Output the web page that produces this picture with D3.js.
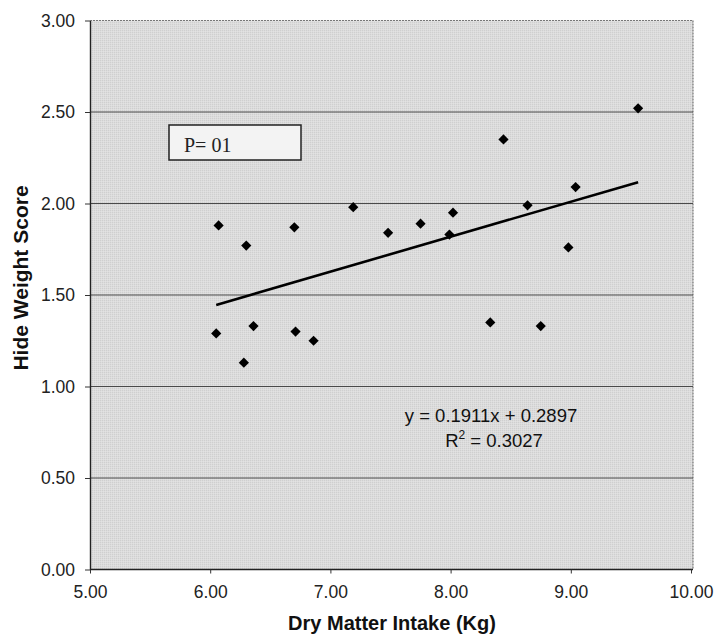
<!DOCTYPE html>
<html>
<head>
<meta charset="utf-8">
<script src="https://cdn.jsdelivr.net/npm/d3@7"></script>
<style>
  html, body { margin: 0; padding: 0; background: #ffffff; }
  svg { display: block; }
</style>
</head>
<body>
<svg id="chart" width="714" height="638"></svg>
<script>
// ---- data ----
const dmi = [6.07, 6.30, 6.70, 7.19, 6.05, 6.36, 6.71, 6.86, 6.28, 7.48,
             7.75, 7.99, 8.02, 8.33, 8.44, 8.64, 8.75, 8.98, 9.04, 9.56];
const hideScore = [1.88, 1.77, 1.87, 1.98, 1.29, 1.33, 1.30, 1.25, 1.13, 1.84,
                   1.89, 1.83, 1.95, 1.35, 2.35, 1.99, 1.33, 1.76, 2.09, 2.52];
const xTicks = [5, 6, 7, 8, 9, 10];
const yTicks = [0, 0.5, 1.0, 1.5, 2.0, 2.5, 3.0];
const slope = [0.1911];
const intercept = [0.2897];
const rSquared = [0.3027];
const pLabel = ["P= 01"];
const xTitle = ["Dry Matter Intake (Kg)"];
const yTitle = ["Hide Weight Score"];

// ---- layout ----
const svg = d3.select("#chart");
const L = 90, R = 693, T = 20.5, B = 569.5;
const x = d3.scaleLinear().domain([5, 10]).range([L, R - 2]);
const y = d3.scaleLinear().domain([0, 3]).range([B, T]);

// pattern for stippled gray background
const defs = svg.append("defs");
const pat = defs.append("pattern").attr("id", "stip")
  .attr("width", 2).attr("height", 2).attr("patternUnits", "userSpaceOnUse");
pat.append("rect").attr("width", 2).attr("height", 2).attr("fill", "#dcdcdc");
pat.append("rect").attr("width", 1).attr("height", 1).attr("fill", "#cfcfcf");
pat.append("rect").attr("x", 1).attr("y", 1).attr("width", 1).attr("height", 1).attr("fill", "#e2e2e2");

svg.append("rect").attr("x", L).attr("y", T).attr("width", R - L).attr("height", B - T)
  .attr("fill", "url(#stip)");

// top & right border (dotted, lighter)
svg.append("path")
  .attr("d", `M${L},${T}H${R}V${B}`)
  .attr("fill", "none").attr("stroke", "#777").attr("stroke-width", 1.2)
  .attr("stroke-dasharray", "2,1");

// gridlines
svg.append("g").selectAll("line").data(yTicks.filter(v => v > 0 && v < 3)).join("line")
  .attr("x1", L).attr("x2", R)
  .attr("y1", d => y(d)).attr("y2", d => y(d))
  .attr("stroke", "#4a4a4a").attr("stroke-width", 1.1);

// axes
const xAxis = d3.axisBottom(x).tickValues(xTicks).tickFormat(d3.format(".2f"))
  .tickSizeInner(4).tickSizeOuter(0).tickPadding(12);
const gx = svg.append("g").attr("transform", `translate(0,${B})`).call(xAxis);
gx.select(".domain").attr("stroke", "#222").attr("stroke-width", 1.4).attr("d", `M${L},0H${R}`);
gx.selectAll(".tick line").attr("stroke", "#333");
gx.selectAll("text").attr("font-family", "Arial, 'Liberation Sans', sans-serif")
  .attr("font-size", "17.5px").attr("fill", "#222");

const yAxis = d3.axisLeft(y).tickValues(yTicks).tickFormat(d3.format(".2f"))
  .tickSizeInner(5).tickSizeOuter(0).tickPadding(10);
const gy = svg.append("g").attr("transform", `translate(${L},0)`).call(yAxis);
gy.select(".domain").attr("stroke", "#222").attr("stroke-width", 1.4);
gy.selectAll(".tick line").attr("stroke", "#333");
gy.selectAll("text").attr("font-family", "Arial, 'Liberation Sans', sans-serif")
  .attr("font-size", "17.5px").attr("fill", "#222");

// trend line
const xmin = d3.min(dmi), xmax = d3.max(dmi);
const f = v => slope[0] * v + intercept[0];
svg.append("line")
  .attr("x1", x(xmin)).attr("y1", y(f(xmin)))
  .attr("x2", x(xmax)).attr("y2", y(f(xmax)))
  .attr("stroke", "#000").attr("stroke-width", 2.6);

// points (diamonds)
const pts = dmi.map((d, i) => ({ x: d, y: hideScore[i] }));
svg.append("g").selectAll("path").data(pts).join("path")
  .attr("d", d3.symbol().type(d3.symbolSquare).size(52))
  .attr("transform", d => `translate(${x(d.x)},${y(d.y)}) rotate(45)`)
  .attr("fill", "#000");

// P box
svg.append("rect").attr("x", 169).attr("y", 125).attr("width", 132).attr("height", 35)
  .attr("fill", "#f3f3f3").attr("stroke", "#222").attr("stroke-width", 1.5);
svg.append("text").attr("x", 184).attr("y", 152)
  .attr("font-family", "'Liberation Serif', 'Times New Roman', serif")
  .attr("font-size", "20px").attr("fill", "#222").text(pLabel[0]);

// equation
const eq = svg.append("g").attr("font-family", "Arial, 'Liberation Sans', sans-serif")
  .attr("fill", "#111").attr("text-anchor", "middle");
eq.append("text").attr("x", 491).attr("y", 422).attr("font-size", "18.5px")
  .text(`y = ${slope[0]}x + ${intercept[0]}`);
const r2 = eq.append("text").attr("x", 494).attr("y", 447).attr("font-size", "18.5px");
r2.append("tspan").text("R");
r2.append("tspan").attr("font-size", "12px").attr("dy", -8).text("2");
r2.append("tspan").attr("dy", 8).text(` = ${rSquared[0]}`);

// axis titles
svg.append("text").attr("x", 392).attr("y", 630).attr("text-anchor", "middle")
  .attr("font-family", "Arial, 'Liberation Sans', sans-serif").attr("font-weight", "bold")
  .attr("font-size", "20px").attr("fill", "#111").text(xTitle[0]);
svg.append("text").attr("transform", "translate(28,278) rotate(-90)").attr("text-anchor", "middle")
  .attr("font-family", "Arial, 'Liberation Sans', sans-serif").attr("font-weight", "bold")
  .attr("font-size", "21px").attr("fill", "#111").text(yTitle[0]);
</script>
</body>
</html>
